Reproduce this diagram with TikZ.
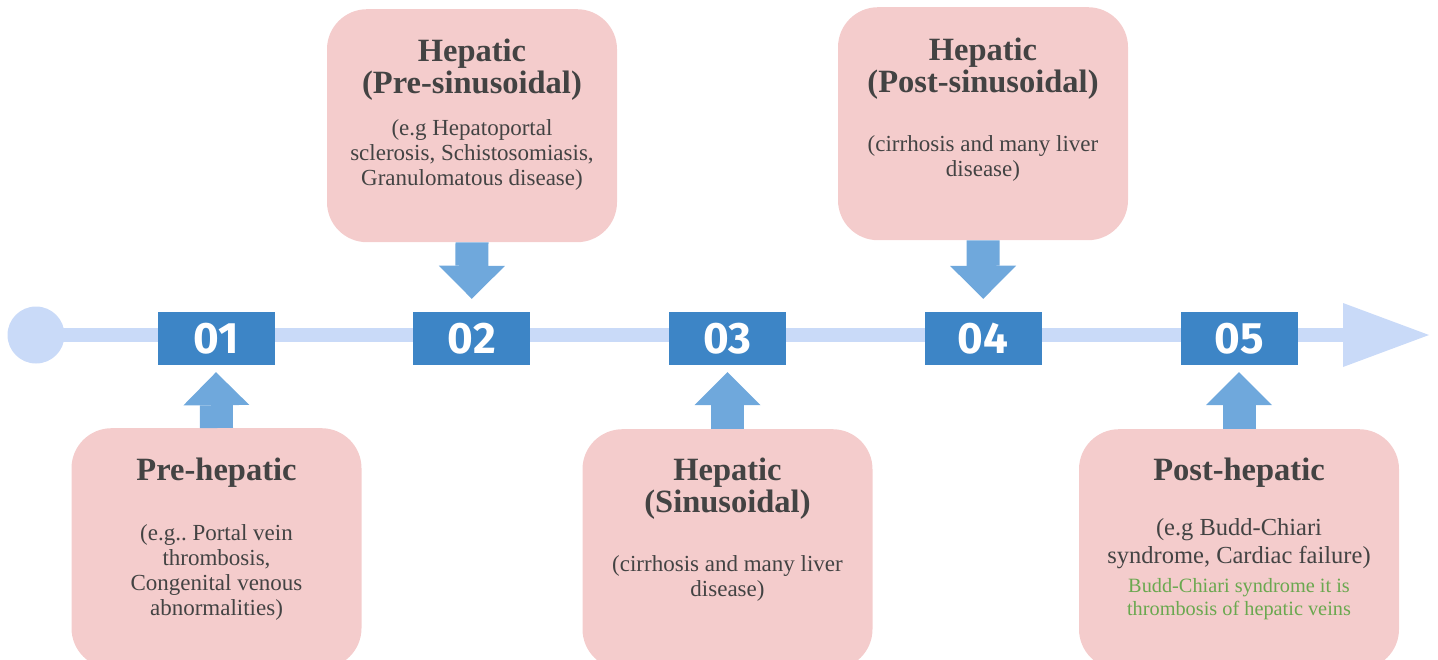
\documentclass[tikz,border=0pt]{standalone}
\usepackage{fontspec}
\setmainfont{Liberation Serif}
\newfontfamily\numfont{Fira Sans}
\usetikzlibrary{arrows.meta,calc}
\frenchspacing

\definecolor{lineblue}{HTML}{C9DAF8}
\definecolor{numblue}{HTML}{3D85C6}
\definecolor{arrowblue}{HTML}{6FA8DC}
\definecolor{boxpink}{HTML}{F4CCCC}
\definecolor{textgray}{HTML}{434343}
\definecolor{notegreen}{HTML}{6AA84F}

\tikzset{
  stagebox/.style={fill=boxpink, rounded corners=40pt, minimum width=290pt,
    minimum height=233pt, anchor=north, inner sep=0pt},
  numbox/.style={fill=numblue, text=white, minimum width=117pt, minimum height=53pt,
    inner sep=0pt, font=\numfont\bfseries\fontsize{44}{44}\selectfont},
  titletext/.style={text=textgray, align=center, anchor=base, inner sep=0pt,
    font=\bfseries\fontsize{32.5}{31.5}\selectfont},
  bodytext/.style={text=textgray, align=center, anchor=base, inner sep=0pt,
    font=\fontsize{23}{25}\selectfont},
  blockarrow/.style={arrowblue, line width=33pt,
    -{Triangle[width=66pt,length=33pt,line width=0pt]}},
}

\begin{document}
\begin{tikzpicture}[x=1pt,y=-1pt]
\useasboundingbox (0,0) rectangle (1438,659);

% Timeline
\node[circle, fill=lineblue, minimum size=57pt, inner sep=0pt] (dot) at (36,335) {};
\coordinate (end) at (1429,335);
\draw[lineblue, line width=14pt, -{Triangle[width=64pt,length=86pt,line width=0pt]}]
  (dot.center) -- (end);

% Step numbers
\foreach \i/\x in {1/216,2/471.75,3/727.5,4/983.25,5/1239}
  \node[numbox] (n\i) at (\x,338.5) {0\i};

% Stage boxes
\node[stagebox, minimum height=240pt] (b1) at (216.5,428) {};
\node[stagebox] (b2) at (472,9) {};
\node[stagebox, minimum height=240pt] (b3) at (727.5,429) {};
\node[stagebox] (b4) at (983,7) {};
\node[stagebox, minimum height=240pt, minimum width=320pt] (b5) at (1239,429) {};

% Arrows into the timeline
\foreach \i in {1,3,5}
  \draw[blockarrow] (b\i.north) -- ($(n\i.south)+(0,7)$);
\foreach \i in {2,4}
  \draw[blockarrow] (b\i.south) -- ($(n\i.north)+(0,-13)$);

% Box texts (anchor base = last line)
\node[titletext] (t1) at (216.5,480) {Pre-hepatic};
\node[bodytext] (d1) at (216.5,615) {(e.g.. Portal vein\\thrombosis,\\Congenital venous\\abnormalities)};

\node[titletext] (t2) at (472,93) {Hepatic\\(Pre-sinusoidal)};
\node[bodytext] (d2) at (472,185) {(e.g Hepatoportal\\sclerosis, Schistosomiasis,\\Granulomatous disease)};

\node[titletext] (t3) at (727.5,512) {Hepatic\\(Sinusoidal)};
\node[bodytext] (d3) at (727.5,596) {(cirrhosis and many liver\\disease)};

\node[titletext] (t4) at (983,92) {Hepatic\\(Post-sinusoidal)};
\node[bodytext] (d4) at (983,176) {(cirrhosis and many liver\\disease)};

\node[titletext] (t5) at (1239,480) {Post-hepatic};
\node[bodytext, font=\fontsize{24.5}{28}\selectfont] (d5) at (1239,563) {(e.g Budd-Chiari\\syndrome, Cardiac failure)};
\node[bodytext, text=notegreen, font=\fontsize{20.3}{22.5}\selectfont] (g5) at (1239,615) {Budd-Chiari syndrome it is\\thrombosis of hepatic veins};

\end{tikzpicture}
\end{document}
